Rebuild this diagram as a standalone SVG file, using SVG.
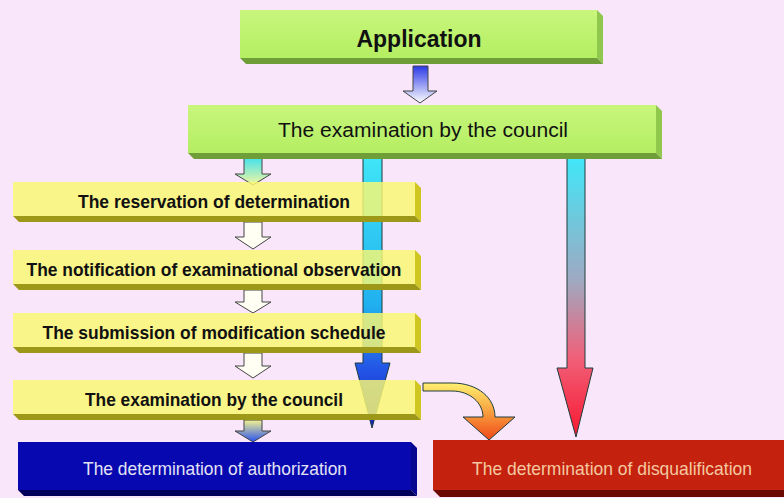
<svg xmlns="http://www.w3.org/2000/svg" width="784" height="498" viewBox="0 0 784 498">
  <style>
    .bold { font-family: "Liberation Sans", Arial, sans-serif; font-weight: bold; fill: #111; }
    .reg { font-family: "Liberation Sans", Arial, sans-serif; fill: #111; }
    .green-face { fill: url(#gGreen); }
    .green-side { fill: #8fc84c; }
    .green-bottom { fill: #6f9e38; }
    .yellow-face { fill: #f8f872; fill-opacity: 0.84; }
    .yellow-side { fill: #cfc622; }
    .yellow-bottom { fill: #9e9818; }
    .blue-face { fill: #0808b0; }
    .blue-side { fill: #060690; }
    .blue-bottom { fill: #00005a; }
    .red-face { fill: #c4220e; }
    .red-bottom { fill: #6a0a02; }
    .conn { stroke: #1e3c3c; stroke-width: 1; stroke-linejoin: round; }
    .hollow { fill: #fffff4; stroke: #444; stroke-width: 1; stroke-linejoin: round; }
  </style>
  <defs>
    <linearGradient id="gGreen" x1="0" y1="0" x2="0" y2="1">
      <stop offset="0" stop-color="#c8f67c"/>
      <stop offset="1" stop-color="#b4ee62"/>
    </linearGradient>
    <linearGradient id="gTop" x1="0" y1="0" x2="0" y2="1">
      <stop offset="0" stop-color="#2a38e6"/>
      <stop offset="1" stop-color="#ffffff"/>
    </linearGradient>
    <linearGradient id="gCyanYellow" x1="0" y1="0" x2="0" y2="1">
      <stop offset="0" stop-color="#30e0f4"/>
      <stop offset="1" stop-color="#f6f6a0"/>
    </linearGradient>
    <linearGradient id="gYellowBlue" x1="0" y1="0" x2="0" y2="1">
      <stop offset="0" stop-color="#f4f490"/>
      <stop offset="1" stop-color="#2850f0"/>
    </linearGradient>
    <linearGradient id="gLong" gradientUnits="userSpaceOnUse" x1="0" y1="155" x2="0" y2="428">
      <stop offset="0" stop-color="#40e6f6"/>
      <stop offset="0.55" stop-color="#20b0f0"/>
      <stop offset="0.78" stop-color="#2456e6"/>
      <stop offset="1" stop-color="#1020c0"/>
    </linearGradient>
    <linearGradient id="gRight" gradientUnits="userSpaceOnUse" x1="0" y1="155" x2="0" y2="437">
      <stop offset="0" stop-color="#3ee8fa"/>
      <stop offset="0.45" stop-color="#a0a8c0"/>
      <stop offset="0.72" stop-color="#f06078"/>
      <stop offset="1" stop-color="#f81830"/>
    </linearGradient>
    <linearGradient id="gCurve" gradientUnits="userSpaceOnUse" x1="0" y1="383" x2="0" y2="440">
      <stop offset="0" stop-color="#fff070"/>
      <stop offset="0.5" stop-color="#f8a040"/>
      <stop offset="1" stop-color="#f04818"/>
    </linearGradient>
  </defs>

  <rect width="784" height="498" fill="#fae6fa"/>

  <g id="connectors">
    <!-- long bypass arrow behind the yellow boxes -->
    <path class="conn" fill="url(#gLong)" d="M363,155 H382 V363 H390 L372,428 L355,363 H363 Z"/>
    <!-- council to disqualification -->
    <path class="conn" fill="url(#gRight)" d="M567,156 H585 V368 H593 L576,437 L557,368 H567 Z"/>
    <!-- second council to disqualification (curved) -->
    <path class="conn" fill="url(#gCurve)" d="M423,383 H452 C478,383 495,398 495,417 H515 L489,440 L463,417 H483 C483,403 470,391 452,391 H423 Z"/>
    <!-- application to council -->
    <path class="hollow" style="fill:url(#gTop)" d="M413,66 H428 V91 H437 L420,103 L403,91 H413 Z"/>
    <!-- step arrows -->
    <path class="hollow" style="fill:url(#gCyanYellow)" d="M244,155 H262 V174 H271 L253,185 L235,174 H244 Z"/>
    <path class="hollow" d="M244,222 H262 V237 H271 L253,249 L235,237 H244 Z"/>
    <path class="hollow" d="M244,290 H262 V302 H271 L253,313 L235,302 H244 Z"/>
    <path class="hollow" d="M244,353 H262 V366 H271 L253,378 L235,366 H244 Z"/>
    <path class="hollow" style="fill:url(#gYellowBlue)" d="M244,420 H262 V431 H271 L253,442 L235,431 H244 Z"/>
  </g>

  <g id="application">
    <polygon class="green-side" points="597,10 603,16 603,64 597,58"/>
    <polygon class="green-bottom" points="240,58 597,58 603,64 246,64"/>
    <rect class="green-face" x="240" y="10" width="357" height="48"/>
    <text class="bold" x="419" y="47" font-size="24" text-anchor="middle" textLength="125" lengthAdjust="spacingAndGlyphs">Application</text>
  </g>

  <g id="council">
    <polygon class="green-side" points="656,105 662,111 662,159 656,153"/>
    <polygon class="green-bottom" points="188,153 656,153 662,159 194,159"/>
    <rect class="green-face" x="188" y="105" width="468" height="48"/>
    <text class="reg" x="423" y="137" font-size="20" text-anchor="middle" textLength="290" lengthAdjust="spacingAndGlyphs">The examination by the council</text>
  </g>

  <g id="reservation">
    <polygon class="yellow-side" points="415,182 421,188 421,222 415,216"/>
    <polygon class="yellow-bottom" points="13,216 415,216 421,222 19,222"/>
    <rect class="yellow-face" x="13" y="182" width="402" height="34"/>
    <text class="bold" x="214" y="208" font-size="18.5" text-anchor="middle" textLength="272" lengthAdjust="spacingAndGlyphs">The reservation of determination</text>
  </g>

  <g id="notification">
    <polygon class="yellow-side" points="415,250 421,256 421,290 415,284"/>
    <polygon class="yellow-bottom" points="13,284 415,284 421,290 19,290"/>
    <rect class="yellow-face" x="13" y="250" width="402" height="34"/>
    <text class="bold" x="214" y="276" font-size="18.5" text-anchor="middle" textLength="375" lengthAdjust="spacingAndGlyphs">The notification of examinational observation</text>
  </g>

  <g id="submission">
    <polygon class="yellow-side" points="415,313 421,319 421,353 415,347"/>
    <polygon class="yellow-bottom" points="13,347 415,347 421,353 19,353"/>
    <rect class="yellow-face" x="13" y="313" width="402" height="34"/>
    <text class="bold" x="214" y="339" font-size="18.5" text-anchor="middle" textLength="343" lengthAdjust="spacingAndGlyphs">The submission of modification schedule</text>
  </g>

  <g id="council-second">
    <polygon class="yellow-side" points="415,380 421,386 421,420 415,414"/>
    <polygon class="yellow-bottom" points="13,414 415,414 421,420 19,420"/>
    <rect class="yellow-face" x="13" y="380" width="402" height="34"/>
    <text class="bold" x="214" y="406" font-size="18.5" text-anchor="middle" textLength="258" lengthAdjust="spacingAndGlyphs">The examination by the council</text>
  </g>

  <g id="authorization">
    <polygon class="blue-side" points="411,442 417,448 417,496 411,490"/>
    <polygon class="blue-bottom" points="18,490 411,490 417,496 24,496"/>
    <rect class="blue-face" x="18" y="442" width="393" height="48"/>
    <text class="reg" x="215" y="475" font-size="19" text-anchor="middle" style="fill:#e2e2f4" textLength="264" lengthAdjust="spacingAndGlyphs">The determination of authorization</text>
  </g>

  <g id="disqualification">
    <polygon class="red-bottom" points="433,490 784,490 784,497 440,497"/>
    <rect class="red-face" x="433" y="440" width="351" height="50"/>
    <text class="reg" x="612" y="475" font-size="19" text-anchor="middle" style="fill:#f4c8a0" textLength="280" lengthAdjust="spacingAndGlyphs">The determination of disqualification</text>
  </g>
</svg>
